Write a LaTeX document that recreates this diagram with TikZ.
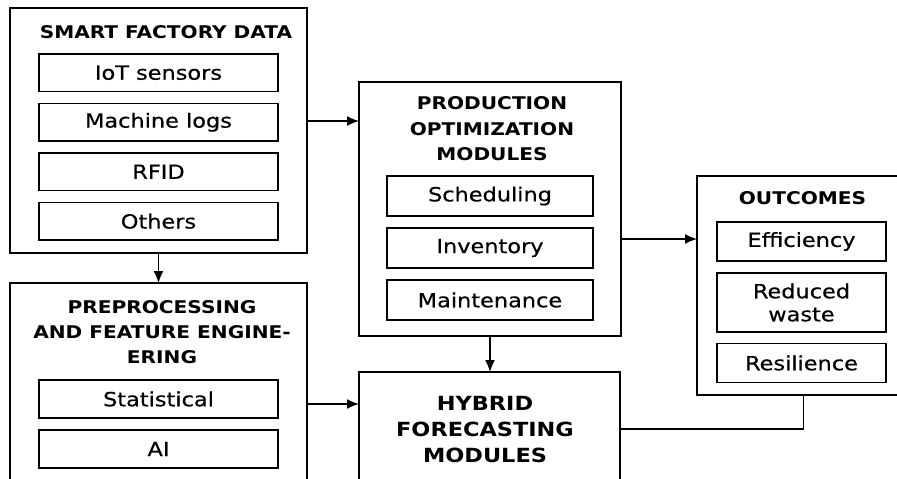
\documentclass[tikz,border=0pt]{standalone}
\usepackage{fontspec}
\setmainfont{DejaVu Sans}[FakeStretch=1.15]
\newfontfamily\itemfont{DejaVu Sans}[FakeStretch=1.15, FakeBold=0.5]
\usetikzlibrary{positioning, arrows.meta}

\begin{document}
\begin{tikzpicture}[x=1pt, y=1pt, line width=1.4pt, >={Latex[length=12pt, width=10pt]},
  group/.style={draw, anchor=north west, inner sep=0pt, outer sep=0pt},
  head/.style={font=\fontsize{17.5}{25}\selectfont\bfseries, align=center, inner sep=0pt, outer sep=0pt},
  item/.style={draw, font=\itemfont\fontsize{19.5}{23}\selectfont, align=center, inner sep=2pt, outer sep=0pt, minimum height=38pt}]
\clip (0,0) rectangle (897,-479);
\fill[white] (0,0) rectangle (897,-479);

% outer blocks (the lower ones and the right one run off the page)
\node[group, minimum width=297pt, minimum height=245pt] (data) at (10,-8) {};
\node[group, minimum width=297pt, minimum height=242pt] (prep) at (10,-283) {};
\node[group, minimum width=262pt, minimum height=254pt] (prod) at (359,-82) {};
\node[group, minimum width=261pt, minimum height=114pt] (hyb) at (359,-372) {};
\node[group, minimum width=213pt, minimum height=219pt] (out) at (697,-176) {};

% headings
\node[head, below=17.6pt of data.north, xshift=7.5pt] (datahead) {SMART FACTORY DATA};
\node[head, below=17.6pt of prep.north, xshift=3.5pt] (prephead) {PREPROCESSING\\AND FEATURE ENGINE-\\ERING};
\node[head, font=\fontsize{17.5}{25.5}\selectfont\bfseries, below=14.6pt of prod.north, xshift=2pt] (prodhead) {PRODUCTION\\OPTIMIZATION\\MODULES};
\node[head, font=\fontsize{19.5}{26}\selectfont\bfseries, below=23.9pt of hyb.north, xshift=-4.5pt] (hybhead) {HYBRID\\FORECASTING\\MODULES};
\node[head, below=15.6pt of out.north, xshift=-1pt] (outhead) {OUTCOMES};

% data sources
\node[item, minimum width=239pt, minimum height=37.5pt, below=46pt of data.north] (iot) {IoT sensors};
\node[item, minimum width=239pt, minimum height=37.5pt, below=12pt of iot] (logs) {Machine logs};
\node[item, minimum width=239pt, minimum height=37.5pt, below=12pt of logs] (rfid) {RFID};
\node[item, minimum width=239pt, minimum height=37.5pt, below=12pt of rfid] (others) {Others};

% preprocessing
\node[item, minimum width=239pt, below=97pt of prep.north] (stat) {Statistical};
\node[item, minimum width=239pt, below=12pt of stat] (ai) {AI};

% optimization modules
\node[item, minimum width=206pt, minimum height=40pt, below=94pt of prod.north] (sched) {Scheduling};
\node[item, minimum width=206pt, minimum height=40pt, below=12pt of sched] (inv) {Inventory};
\node[item, minimum width=206pt, minimum height=40pt, below=12pt of inv] (maint) {Maintenance};

% outcomes
\node[item, minimum width=169pt, minimum height=39pt, below=46pt of out.north, xshift=-2pt] (eff) {Efficiency};
\node[item, minimum width=169pt, minimum height=59pt, below=12pt of eff] (waste) {Reduced\\waste};
\node[item, minimum width=169pt, minimum height=39pt, below=11.5pt of waste] (resil) {Resilience};

% connectors
\draw[->] ([yshift=9.5pt]data.east) -- ([yshift=9.5pt]data.east -| prod.west);
\draw[->] (data.south) -- (prep.north);
\draw[->] (prep.east) -- (prep.east -| hyb.west);
\draw[->] (prod.south) -- (prod.south |- hyb.north);
\draw[->] ([yshift=-30pt]prod.east) -- ([yshift=-30pt]prod.east -| out.west);
\draw (hyb.east) -| (out.south);
\end{tikzpicture}
\end{document}
